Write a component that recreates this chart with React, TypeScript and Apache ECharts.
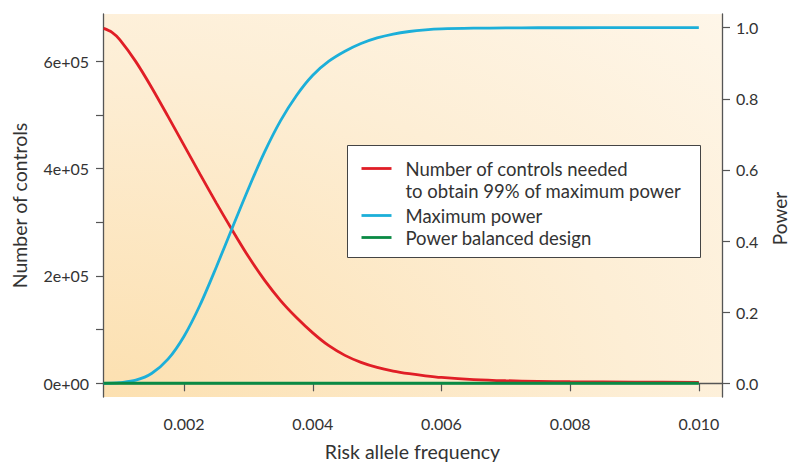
import React, { useEffect, useRef } from "react";
import * as echarts from "echarts";

const riskAlleleFrequency = [
  0.00075, 0.000875, 0.001, 0.00125, 0.0015, 0.00175, 0.002, 0.00225, 0.0025, 0.00275,
  0.003, 0.00325, 0.0035, 0.00375, 0.004, 0.00425, 0.0045, 0.00475, 0.005, 0.00525,
  0.0055, 0.00575, 0.006, 0.0065, 0.007, 0.0075, 0.008, 0.009, 0.01,
];
const controlsNeeded = [
  661000, 654000, 640000, 599000, 550000, 497000, 443000, 389000, 336000, 285000,
  236000, 192000, 154000, 122000, 94000, 70000, 52000, 39000, 29500, 22800,
  17900, 14000, 10900, 7000, 4800, 3720, 2980, 2230, 1860,
];
const maximumPower = [
  0, 0.0003, 0.0017, 0.0087, 0.0284, 0.0678, 0.1325, 0.221, 0.3265, 0.4376,
  0.5472, 0.6499, 0.7385, 0.8102, 0.8664, 0.9058, 0.9339, 0.9555, 0.9713, 0.9822,
  0.9893, 0.9938, 0.9965, 0.9985, 0.9994, 0.9998, 0.9999, 1.0, 1.0,
];
const powerBalanced = [
  0, 0, 0, 0, 0, 0, 0, 0, 0, 0,
  0, 0, 0, 0, 0, 0, 0, 0, 0, 0,
  0, 0, 0, 0, 0, 0, 0, 0, 0,
];
const xTicks = [0.002, 0.004, 0.006, 0.008, 0.01];
const leftTicks = [0, 100000, 200000, 300000, 400000, 500000, 600000];
const leftLabels = [0, 200000, 400000, 600000];
const rightTicks = [0, 0.2, 0.4, 0.6, 0.8, 1.0];

const seriesNames = ["Number of controls needed", "Maximum power", "Power balanced design"];
const legendLines = [
  "Number of controls needed",
  "to obtain 99% of maximum power",
  "Maximum power",
  "Power balanced design",
];
const colors = ["#e01e26", "#1cafd9", "#0a8a44"];

const FONT = "Lato, 'Open Sans', sans-serif";
const TXT = "#333333";
const AXIS = "#555555";

function sci(v: number): string {
  if (v === 0) return "0e+00";
  const e = Math.floor(Math.log10(Math.abs(v)));
  const m = Math.round(v / Math.pow(10, e));
  return `${m}e+${String(e).padStart(2, "0")}`;
}

export default function App() {
  const ref = useRef<HTMLDivElement>(null);
  useEffect(() => {
    if (!ref.current) return;
    const chart = echarts.init(ref.current, null, { renderer: "svg" });
    const pair = (ys: number[]) => riskAlleleFrequency.map((x, i) => [x, ys[i]]);
    const axisLine = { show: true, lineStyle: { color: AXIS, width: 1.3 } };
    const label = { color: TXT, fontSize: 16, fontFamily: FONT, margin: 14 };
    const nameStyle = { color: TXT, fontSize: 19.5, fontFamily: FONT };
    chart.setOption({
      animation: false,
      grid: {
        left: 103,
        right: 68,
        top: 14,
        bottom: 65,
        containLabel: false,
        outerBoundsMode: "none",
        show: true,
        borderWidth: 0,
        backgroundColor: new echarts.graphic.RadialGradient(0, 1, 1.9, [
          { offset: 0, color: "#fce0b0" },
          { offset: 0.45, color: "#fdeed5" },
          { offset: 1, color: "#fffdfa" },
        ]),
      },
      xAxis: {
        type: "value",
        min: 0.00074,
        max: 0.01036,
        name: "Risk allele frequency",
        nameLocation: "middle",
        nameGap: 44,
        nameTextStyle: nameStyle,
        axisLine,
        axisTick: { show: true, length: 8, customValues: xTicks, lineStyle: { color: AXIS, width: 1.2 } },
        axisLabel: { ...label, margin: 18, customValues: xTicks, formatter: (v: number) => v.toFixed(3) },
        splitLine: { show: false },
      },
      yAxis: [
        {
          type: "value",
          position: "left",
          min: -25500,
          max: 687700,
          name: "Number of controls",
          nameLocation: "middle",
          nameGap: 74,
          nameTextStyle: nameStyle,
          axisLine,
          axisTick: { show: true, length: 7, customValues: leftTicks, lineStyle: { color: AXIS, width: 1.2 } },
          axisLabel: { ...label, customValues: leftLabels, formatter: (v: number) => sci(v) },
          splitLine: { show: false },
        },
        {
          type: "value",
          position: "right",
          min: -0.0385,
          max: 1.0385,
          name: "Power",
          nameLocation: "middle",
          nameGap: 48,
          nameTextStyle: { ...nameStyle, fontSize: 19, lineHeight: 19, padding: [0, 26, 0, 0] },
          axisLine,
          axisTick: { show: true, length: 8, customValues: rightTicks, lineStyle: { color: AXIS, width: 1.2 } },
          axisLabel: { ...label, customValues: rightTicks, formatter: (v: number) => v.toFixed(1) },
          splitLine: { show: false },
        },
      ],
      series: [
        {
          name: seriesNames[0],
          type: "line",
          yAxisIndex: 0,
          data: pair(controlsNeeded),
          smooth: 0.3,
          showSymbol: false,
          lineStyle: { color: colors[0], width: 2.8 },
          z: 3,
        },
        {
          name: seriesNames[1],
          type: "line",
          yAxisIndex: 1,
          data: pair(maximumPower),
          smooth: 0.3,
          showSymbol: false,
          lineStyle: { color: colors[1], width: 2.8 },
          z: 3,
        },
        {
          name: seriesNames[2],
          type: "line",
          yAxisIndex: 1,
          data: pair(powerBalanced),
          showSymbol: false,
          lineStyle: { color: colors[2], width: 3 },
          z: 4,
        },
      ],
      graphic: [
        {
          type: "group",
          left: 347,
          top: 145,
          children: [
            {
              type: "rect",
              shape: { x: 0, y: 0, width: 353, height: 112 },
              style: { fill: "#ffffff", stroke: "#444444", lineWidth: 1 },
            },
            { type: "line", shape: { x1: 14, y1: 23, x2: 44, y2: 23 }, style: { stroke: colors[0], lineWidth: 2.8 } },
            { type: "line", shape: { x1: 14, y1: 70, x2: 44, y2: 70 }, style: { stroke: colors[1], lineWidth: 2.8 } },
            { type: "line", shape: { x1: 14, y1: 92, x2: 44, y2: 92 }, style: { stroke: colors[2], lineWidth: 2.8 } },
            ...legendLines.map((t, i) => ({
              type: "text",
              x: 58,
              y: [23, 45, 70, 92][i],
              style: { text: t, fill: TXT, fontSize: 18.5, fontFamily: FONT, verticalAlign: "middle" },
            })),
          ],
        },
      ],
    });
    return () => chart.dispose();
  }, []);
  return <div ref={ref} style={{ width: 790, height: 462, position: "absolute", left: 0, top: 0 }} />;
}
